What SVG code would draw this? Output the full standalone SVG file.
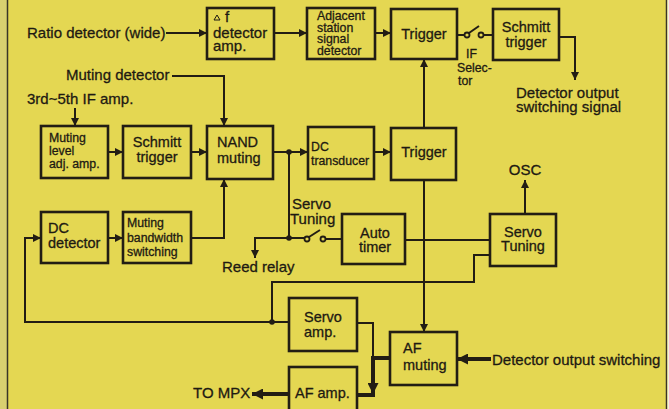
<svg xmlns="http://www.w3.org/2000/svg" width="669" height="409" viewBox="0 0 669 409">
<style>
.bx{fill:none;stroke:#221d14;stroke-width:2.6}
.ln{fill:none;stroke:#221d14;stroke-width:2}
.tk{fill:none;stroke:#221d14;stroke-width:4}
.dt{fill:#221d14}
.sw{fill:#e4d752;stroke:#221d14;stroke-width:1.8}
text{font-family:"Liberation Sans",Arial,sans-serif;font-size:14.5px;fill:#1e1a12;stroke:#1e1a12;stroke-width:0.3}
.o{font-size:15px}
.s{font-size:12.3px}
.c{text-anchor:middle}
</style>
<defs>
<marker id="a" viewBox="0 0 10 10" refX="10" refY="5" markerWidth="9" markerHeight="8" markerUnits="userSpaceOnUse" orient="auto"><path d="M0,0L10,5L0,10z" fill="#221d14"/></marker>
<marker id="b" viewBox="0 0 10 10" refX="10" refY="5" markerWidth="13" markerHeight="11" markerUnits="userSpaceOnUse" orient="auto"><path d="M0,0L10,5L0,10z" fill="#221d14"/></marker>
</defs>
<rect x="0" y="0" width="669" height="409" fill="#e4d752"/>
<rect x="0" y="0" width="7" height="409" fill="#d9d070"/>
<line x1="7.5" y1="0" x2="7.5" y2="409" stroke="#3a3528" stroke-width="1.5"/>
<line x1="666.5" y1="0" x2="666.5" y2="409" stroke="#3a3528" stroke-width="1.5"/>
<rect x="667.5" y="0" width="2" height="409" fill="#f2efe0"/>

<g id="labels">
<text x="27" y="38" class="o">Ratio detector (wide)</text>
<text x="66" y="80" class="o">Muting detector</text>
<text x="27" y="104" class="o">3rd~5th IF amp.</text>
<text x="466" y="58" class="s">IF</text>
<text x="457" y="72" class="s">Selec-</text>
<text x="458" y="85" class="s">tor</text>
<text x="516" y="98" class="o">Detector output</text>
<text x="516" y="112" class="o">switching signal</text>
<text x="525" y="175" class="c o">OSC</text>
<text x="292" y="209" class="o">Servo</text>
<text x="290" y="224" class="o">Tuning</text>
<text x="222" y="272" class="o">Reed relay</text>
<text x="193" y="398" class="o">TO MPX</text>
<text x="492" y="365" class="o">Detector output switching</text>
</g>

<g id="df">
<rect class="bx" x="207" y="8" width="67" height="51"/>
<path d="M214,20L217,15L220,20z" fill="none" stroke="#1e1a12" stroke-width="1"/>
<text x="225" y="22" class="o">f</text>
<text x="213" y="38" class="o">detector</text>
<text x="213" y="51" class="o">amp.</text>
</g>
<g id="adj">
<rect class="bx" x="307" y="8" width="68" height="51"/>
<text x="317" y="20" class="s">Adjacent</text>
<text x="317" y="31.5" class="s">station</text>
<text x="317" y="43" class="s">signal</text>
<text x="317" y="55" class="s">detector</text>
</g>
<g id="trig1">
<rect class="bx" x="391" y="9" width="66" height="50"/>
<text x="424" y="39" class="c">Trigger</text>
</g>
<g id="schmitt1">
<rect class="bx" x="493" y="9" width="66" height="51"/>
<text x="526" y="32" class="c">Schmitt</text>
<text x="526" y="47" class="c">trigger</text>
</g>
<g id="mla">
<rect class="bx" x="41" y="126" width="67" height="52"/>
<text x="49" y="142" class="s">Muting</text>
<text x="49" y="155" class="s">level</text>
<text x="49" y="168" class="s">adj. amp.</text>
</g>
<g id="schmitt2">
<rect class="bx" x="123" y="126" width="68" height="52"/>
<text x="157" y="147" class="c">Schmitt</text>
<text x="157" y="162" class="c">trigger</text>
</g>
<g id="nand">
<rect class="bx" x="207" y="126" width="66" height="53"/>
<text x="217" y="147">NAND</text>
<text x="217" y="163">muting</text>
</g>
<g id="dct">
<rect class="bx" x="308" y="127" width="66" height="52"/>
<text x="311" y="151" class="s">DC</text>
<text x="311" y="165" class="s">transducer</text>
</g>
<g id="trig2">
<rect class="bx" x="391" y="128" width="65" height="52"/>
<text x="424" y="157" class="c">Trigger</text>
</g>
<g id="dcd">
<rect class="bx" x="41" y="212" width="67" height="51"/>
<text x="48" y="233">DC</text>
<text x="48" y="248">detector</text>
</g>
<g id="mbs">
<rect class="bx" x="123" y="212" width="68" height="51"/>
<text x="127" y="227" class="s">Muting</text>
<text x="127" y="242" class="s">bandwidth</text>
<text x="127" y="256" class="s">switching</text>
</g>
<g id="auto">
<rect class="bx" x="342" y="214" width="63" height="50"/>
<text x="375" y="238" class="c">Auto</text>
<text x="375" y="252" class="c">timer</text>
</g>
<g id="servot">
<rect class="bx" x="490" y="214" width="66" height="52"/>
<text x="523" y="237" class="c">Servo</text>
<text x="523" y="251" class="c">Tuning</text>
</g>
<g id="servoa">
<rect class="bx" x="289" y="298" width="68" height="53"/>
<text x="304" y="322">Servo</text>
<text x="304" y="337">amp.</text>
</g>
<g id="afm">
<rect class="bx" x="390" y="332" width="67" height="53"/>
<text x="403" y="353">AF</text>
<text x="403" y="370">muting</text>
</g>
<g id="afa">
<rect class="bx" x="289" y="367" width="68" height="50"/>
<text x="295" y="398">AF amp.</text>
</g>

<g id="connectors">
<path class="ln" d="M166,33H207" marker-end="url(#a)"/>
<path class="ln" d="M274,33H307" marker-end="url(#a)"/>
<path class="ln" d="M375,33H391" marker-end="url(#a)"/>
<path class="ln" d="M457,35H465"/>
<path class="ln" d="M469,33L479,26"/>
<path class="ln" d="M483,35H493"/>
<circle class="sw" cx="467" cy="35" r="2.5"/>
<circle class="sw" cx="481" cy="35" r="2.5"/>
<path class="ln" d="M559,37H575V80" marker-end="url(#a)"/>
<path class="ln" d="M172,76H224V126" marker-end="url(#a)"/>
<path class="ln" d="M75,108V126" marker-end="url(#a)"/>
<path class="ln" d="M108,152H123" marker-end="url(#a)"/>
<path class="ln" d="M191,152H207" marker-end="url(#a)"/>
<path class="ln" d="M273,152H308" marker-end="url(#a)"/>
<path class="ln" d="M374,152H391" marker-end="url(#a)"/>
<path class="ln" d="M424,128V59" marker-end="url(#a)"/>
<path class="ln" d="M424,180V332" marker-end="url(#a)"/>
<path class="ln" d="M108,238H123" marker-end="url(#a)"/>
<path class="ln" d="M191,238H224V179" marker-end="url(#a)"/>
<path class="ln" d="M289,152V238"/>
<path class="ln" d="M305,238H255V258" marker-end="url(#a)"/>
<path class="ln" d="M309,237L320,230"/>
<path class="ln" d="M325,239H342"/>
<circle class="sw" cx="307" cy="239" r="2.5"/>
<circle class="sw" cx="323" cy="239" r="2.5"/>
<path class="ln" d="M405,240H490"/>
<path class="ln" d="M525,214V180" marker-end="url(#a)"/>
<path class="ln" d="M490,255H474V282H272V322"/>
<path class="ln" d="M289,322H25V238H41" marker-end="url(#a)"/>
<path class="ln" d="M357,323H373V358"/>
<path class="tk" d="M390,358H373V394" marker-end="url(#b)"/>
<path class="tk" d="M357,395H375"/>
<path class="tk" d="M289,394H252" marker-end="url(#b)"/>
<path class="tk" d="M491,359H457" marker-end="url(#b)"/>
<circle class="dt" cx="289" cy="152" r="2.8"/>
<circle class="dt" cx="289" cy="238" r="2.8"/>
<circle class="dt" cx="272" cy="322" r="2.8"/>
</g>
</svg>
